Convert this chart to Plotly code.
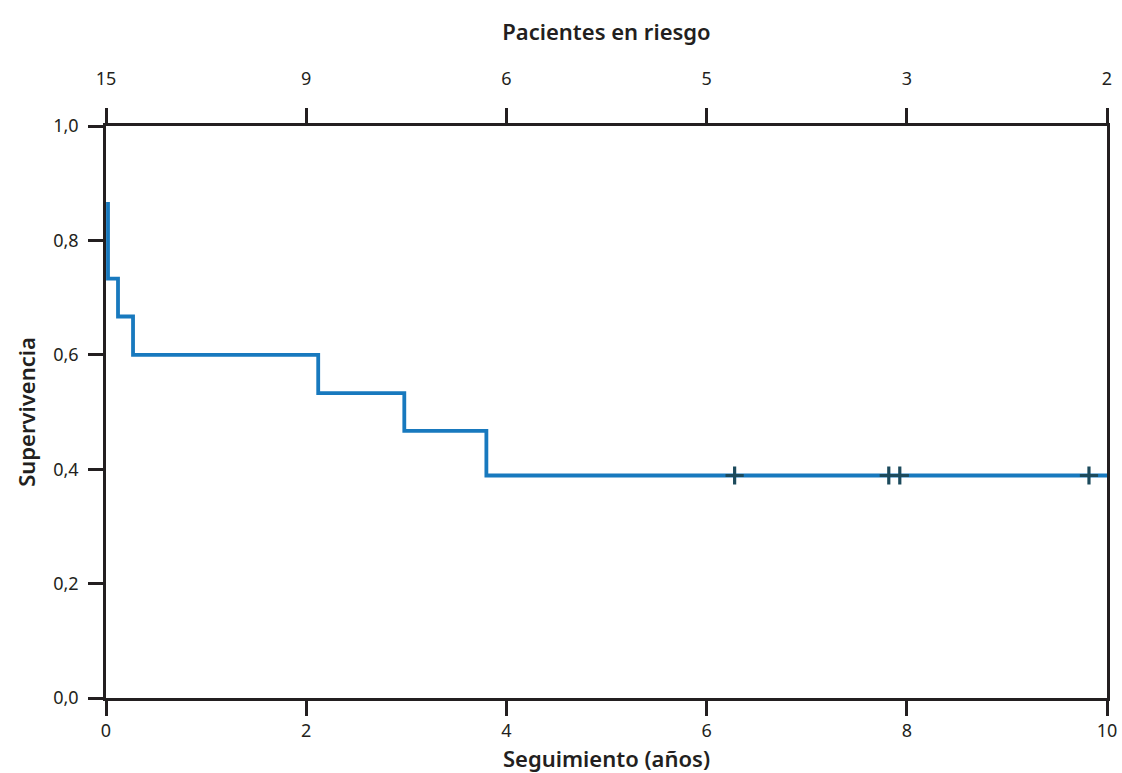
import plotly.graph_objects as go

# Kaplan-Meier step points (time in years, survival probability)
step_times = [0.02, 0.02, 0.12, 0.27, 2.12, 2.98, 3.80, 10.0]
step_surv = [0.867, 0.733, 0.667, 0.600, 0.533, 0.467, 0.389, 0.389]

# Censored observations
censor_times = [6.28, 7.82, 7.93, 9.82]
censor_surv = [0.389, 0.389, 0.389, 0.389]

# Axis ticks and numbers at risk
x_ticks = [0, 2, 4, 6, 8, 10]
at_risk = ["15", "9", "6", "5", "3", "2"]
y_ticks = [0.0, 0.2, 0.4, 0.6, 0.8, 1.0]
y_labels = ["0,0", "0,2", "0,4", "0,6", "0,8", "1,0"]

FONT = "Noto Sans"
AXIS_COLOR = "#231f20"

fig = go.Figure()

fig.add_trace(go.Scatter(
    x=step_times, y=step_surv, mode="lines",
    line=dict(color="#1879be", width=3.8, shape="hv"),
    showlegend=False, hoverinfo="skip",
))

fig.add_trace(go.Scatter(
    x=censor_times, y=censor_surv, mode="markers",
    marker=dict(symbol="cross-thin", size=13,
                line=dict(color="#1c4a5c", width=3.2)),
    showlegend=False, hoverinfo="skip",
))

# Invisible trace to activate the top (numbers at risk) axis
fig.add_trace(go.Scatter(
    x=[0, 10], y=[0, 0], xaxis="x2", mode="markers",
    marker=dict(opacity=0), showlegend=False, hoverinfo="skip",
))

axis_common = dict(
    showgrid=False, zeroline=False, showline=True, automargin=False,
    linecolor=AXIS_COLOR, linewidth=2.5,
    ticks="outside", ticklen=15, tickwidth=2.5, tickcolor=AXIS_COLOR,
    tickfont=dict(family=FONT, size=18, color=AXIS_COLOR),
)
title_font = dict(family=FONT, size=22, color=AXIS_COLOR, weight=600)

fig.update_layout(
    width=1122, height=773,
    margin=dict(l=106, r=15, t=126, b=75),
    plot_bgcolor="white", paper_bgcolor="white",
    font=dict(family=FONT, color=AXIS_COLOR),
    xaxis=dict(
        **axis_common, range=[0, 10], tickvals=x_ticks,
        ticktext=[str(v) for v in x_ticks], mirror=True,
        title=dict(text="Seguimiento (años)", standoff=16, font=title_font),
    ),
    xaxis2=dict(
        **axis_common, range=[0, 10], tickvals=x_ticks, ticktext=at_risk,
        overlaying="x", side="top", anchor="y", ticklabelstandoff=16,
        title=dict(text="Pacientes en riesgo", standoff=20, font=title_font),
    ),
    yaxis=dict(
        **axis_common, range=[0, 1], tickvals=y_ticks, ticktext=y_labels,
        mirror=True, ticklabelstandoff=6,
        title=dict(text="Supervivencia", standoff=12, font=title_font),
    ),
)

fig.write_html("out.html")
